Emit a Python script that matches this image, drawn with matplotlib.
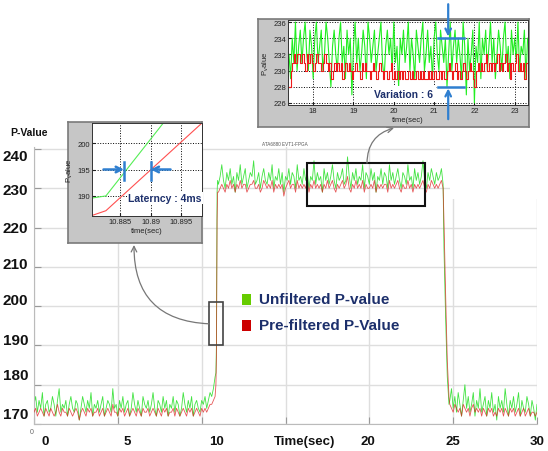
import numpy as np
import matplotlib
matplotlib.use("Agg")
import matplotlib.pyplot as plt
from matplotlib.patches import Rectangle

plt.rcParams["font.family"] = ["Liberation Sans", "DejaVu Sans"]

GREEN_LOW1 = [175,177,173,176,174,178,172,175,176,173,
              174,177,175,172,176,179,173,175,174,176,
              172,175,177,174,173,176,175,171,174,177,
              175,173,176,174,178,172,175,174,176,173,
              175,177,172,174,176,175,173,179,174,175,
              172,176,174,177,173,175,176,172,174,178,
              175,173,176,174,172,177,175,174,176,173,
              175,178,174,172,176,175,173,177,174,176,
              172,175,174,177,173,176,175,172,174,178,
              175,173,176,174,177,172,175,176,174,173,
              176,175,177,174,176,178,177,179,182]
RED_LOW1 = [173,174,172,173,174,173,172,174,173,172,
            174,173,172,173,175,173,172,174,173,173,
            172,174,173,172,173,174,173,171,173,174,
            173,172,174,173,174,172,173,173,174,172,
            173,174,172,173,174,173,172,175,173,173,
            172,174,173,174,172,173,174,172,173,174,
            173,172,174,173,172,174,173,173,174,172,
            173,174,173,172,174,173,172,174,173,174,
            172,173,173,174,172,174,173,172,173,174,
            173,172,174,173,174,172,173,174,173,172,
            174,173,174,173,174,175,175,176,177]

RISE_T = [10.85, 10.88, 10.89, 10.90, 10.92, 10.95]
GREEN_RISE = [183, 190, 201, 216, 229, 232]
RED_RISE = [180, 187, 195, 206, 222, 229]

GREEN_HIGH = [231,233,236,232,230,234,232,235,231,233,
              229,234,232,236,231,233,235,230,232,234,
              233,237,231,232,234,230,233,235,232,231,
              234,232,236,230,233,232,235,231,234,229,
              233,232,235,231,234,233,230,236,232,233,
              231,235,232,234,230,233,232,237,231,234,
              232,233,229,235,232,234,231,233,236,232,
              230,234,232,233,235,231,232,238,233,230,
              234,232,235,231,233,232,236,230,234,233,
              231,235,232,234,229,233,232,235,231,234,
              233,230,236,232,234,231,233,235,232,230,
              234,233,231,236,232,233,230,235,232,234,
              231,233,237,232,230,234,232,235,233,231,
              234,232,233,235,231]
RED_HIGH = [229,230,231,230,229,231,230,232,230,231,
            229,231,230,232,230,231,231,229,230,231,
            231,232,230,230,231,229,230,232,231,230,
            231,230,232,229,231,230,231,230,231,228,
            230,231,232,230,231,231,229,232,230,231,
            230,231,230,232,229,231,230,232,230,231,
            230,231,229,231,230,232,230,231,232,230,
            229,231,230,231,232,230,231,233,230,229,
            231,230,232,230,231,230,232,229,231,230,
            230,231,230,232,229,231,230,231,230,231,
            231,229,232,230,231,230,231,232,230,229,
            231,230,230,232,230,231,229,231,230,231,
            230,231,232,230,229,231,230,232,231,230,
            231,230,231,232,230]

FALL_T = [24.45, 24.55, 24.65, 24.75]
GREEN_FALL = [215, 197, 182, 175]
RED_FALL = [222, 203, 186, 177]

GREEN_LOW2 = [176,179,174,177,173,178,175,172,176,180,
              174,177,173,175,178,172,176,174,179,173,
              175,177,172,176,174,178,173,175,171,177,
              174,176,173,179,175,172,176,174,177,173,
              175,178,172,176,174,173,177,175,172,176,
              174,171,175]
RED_LOW2 = [175,174,173,175,174,173,174,172,175,174,
            173,174,172,174,175,173,174,173,174,172,
            174,173,172,174,173,174,172,173,172,174,
            173,174,172,174,173,172,174,173,174,172,
            173,174,172,173,174,172,173,174,172,173,
            173,172,173]

# ---- latency zoom (piecewise lines) ----
LAT_GREEN_T = [10.8803, 10.8826, 10.8921]
LAT_GREEN_V = [189.6, 190.0, 203.8]
LAT_RED_T = [10.8803, 10.8826, 10.8985]
LAT_RED_V = [186.3, 187.2, 203.8]

# ---- variation zoom, sampled every 0.04 s from 17.4 s ----
VAR_GREEN = [232,229,234,231,236,230,233,235,231,234,
             236,232,230,235,233,229,234,236,231,233,
             235,230,232,236,234,231,228,233,235,232,
             230,234,236,231,233,229,235,232,234,227,
             233,236,231,234,230,232,235,233,229,236,
             234,231,233,235,230,232,234,236,231,229,
             233,235,232,234,230,236,231,233,228,234,
             232,235,231,233,236,230,234,232,229,235,
             233,231,234,236,230,232,235,231,233,229,
             234,236,232,230,235,233,231,234,228,232,
             236,230,233,235,231,234,232,229,236,233,
             227,234,230,232,235,226,233,231,236,229,
             234,232,235,230,233,236,231,234,229,232,
             235,233,230,234,236,231,233,229,235,232,
             234,231,236,230,233,232,235,229,234]
VAR_RED = [228,230,231,232,231,232,232,231,232,231,
           230,232,231,232,231,230,231,232,231,231,
           230,231,232,231,230,231,229,230,231,230,
           231,230,231,229,230,231,230,231,230,229,
           230,231,230,230,229,231,230,231,230,230,
           229,230,231,230,229,230,231,230,229,230,
           230,229,230,231,229,230,229,230,229,230,
           229,230,229,229,230,229,230,229,229,230,
           229,230,229,230,229,229,230,229,230,229,
           230,229,229,230,229,230,229,229,230,231,
           230,229,230,231,229,230,229,230,231,230,
           229,230,231,230,229,228,230,231,230,231,
           230,231,232,230,231,230,231,230,231,232,
           230,231,230,231,232,230,231,229,231,230,
           231,232,230,231,230,231,229,231,230]

Y_LABELS = ["240", "230", "220", "210", "200", "190", "180", "170"]
X_LABELS = ["0", "5", "10", "Time(sec)", "20", "25", "30"]
LEGEND = ["Unfiltered P-value", "Pre-filtered P-Value"]

# assemble the main time axis
t_low1 = np.arange(len(GREEN_LOW1)) * 0.1
t_high = 11.0 + np.arange(len(GREEN_HIGH)) * 0.1
t_low2 = 24.8 + np.arange(len(GREEN_LOW2)) * 0.1
t_main = np.concatenate([t_low1, RISE_T, t_high, FALL_T, t_low2])
g_main = np.concatenate([GREEN_LOW1, GREEN_RISE, GREEN_HIGH, GREEN_FALL, GREEN_LOW2])
r_main = np.concatenate([RED_LOW1, RED_RISE, RED_HIGH, RED_FALL, RED_LOW2])
t_var = 17.4 + np.arange(len(VAR_GREEN)) * 0.04

W, H = 548, 452
fig = plt.figure(figsize=(W / 100, H / 100), dpi=100)
fig.patch.set_facecolor("white")


def fx(px):
    return px / W


def fy(py):
    return 1 - py / H


NAVY = "#1c2f6b"
GREEN = "#2ee02e"
RED = "#dd2020"
BLUE = "#2f7fd0"

# ---- main axes ----
ax = fig.add_axes([fx(34), fy(425), fx(537) - fx(34), fy(148) - fy(425)])
ax.set_xlim(0, 30)
ax.set_ylim(170, 240.5)
ax.set_xticks(np.arange(0, 31, 5))
ax.set_yticks(np.arange(170, 241, 10))
ax.tick_params(labelbottom=False, labelleft=False, direction="in",
               length=5, color="#999999")
ax.grid(color="#dedede", lw=1)
ax.set_axisbelow(True)
for s in ["top", "right"]:
    ax.spines[s].set_visible(False)
for s in ["left", "bottom"]:
    ax.spines[s].set_color("#bbbbbb")
# blank patch in the upper right corner of the original
ax.add_patch(Rectangle((24.82, 227.3), 6, 14, facecolor="white",
                       edgecolor="none", zorder=1))

ax.plot(t_main, g_main, color=GREEN, lw=0.6, alpha=0.9, zorder=2)
ax.plot(t_main, r_main, color=RED, lw=0.6, alpha=0.75, zorder=3)

ax.add_patch(Rectangle((10.44, 190.1), 0.83, 11.0, fill=False,
                       edgecolor="#444444", lw=1.2, zorder=4))
ax.add_patch(Rectangle((16.28, 225.5), 7.02, 10.9, fill=False,
                       edgecolor="#111111", lw=1.5, zorder=4))

# tick labels placed like in the picture
ylab_py = [157, 191, 229, 265, 301, 341, 376, 415]
for lab, py in zip(Y_LABELS, ylab_py):
    fig.text(fx(28), fy(py), lab, ha="right", va="center",
             fontsize=11, fontweight="bold", color="#111111")
xlab_px = [45, 127, 217, 305, 368, 453, 537]
for lab, px in zip(X_LABELS, xlab_px):
    fig.text(fx(px), fy(442), lab, ha="center", va="center",
             fontsize=9.5, fontweight="bold", color="#111111")
fig.text(fx(29.5), fy(133), "P-Value", ha="center", va="center",
         fontsize=7.5, fontweight="bold", color="#111111")
fig.text(fx(32), fy(433), "0", ha="center", va="center", fontsize=5,
         color="#666666")
fig.text(fx(285), fy(144), "ATA6880 EVT1-FPGA", ha="center", va="center",
         fontsize=3.3, color="#555555")

# legend
for i, (lab, col) in enumerate(zip(LEGEND, ["#66cc00", "#cc0000"])):
    cy = [300.5, 326][i]
    fig.patches.append(Rectangle((fx(242), fy(cy + 5.5)), 9 / W, 11 / H,
                                 transform=fig.transFigure,
                                 facecolor=col, edgecolor="none"))
    fig.text(fx(259), fy(cy), lab, ha="left", va="center", fontsize=11,
             fontweight="bold", color=NAVY)

# connector arcs
ax.annotate("", xy=(fx(134), fy(246)), xycoords="figure fraction",
            xytext=(10.44, 195.5), textcoords="data",
            arrowprops=dict(arrowstyle="->", color="#777777", lw=0.9,
                            connectionstyle="arc3,rad=-0.48",
                            shrinkA=0, shrinkB=0), zorder=5)
ax.annotate("", xy=(fx(394), fy(129)), xycoords="figure fraction",
            xytext=(19.86, 236.4), textcoords="data",
            arrowprops=dict(arrowstyle="->", color="#777777", lw=0.9,
                            connectionstyle="arc3,rad=-0.375",
                            shrinkA=0, shrinkB=0), zorder=5)


def gray_frame(x0, y0, x1, y1):
    fr = fig.add_axes([fx(x0), fy(y1), fx(x1) - fx(x0), fy(y0) - fy(y1)])
    fr.set_facecolor("#c6c6c6")
    fr.set_xticks([])
    fr.set_yticks([])
    for s in fr.spines.values():
        s.set_color("#7a7a7a")
        s.set_linewidth(1.2)
    return fr


def style_inset(a):
    a.grid(color="black", ls=":", lw=0.7)
    a.tick_params(labelsize=5.5, direction="in", length=2, pad=1.5,
                  colors="#222222")
    for s in a.spines.values():
        s.set_color("#333333")
        s.set_linewidth(0.7)
    a.set_ylabel(r"P$_\mathregular{v}$alue", fontsize=5.5, labelpad=1.5,
                 color="#222222")
    a.set_xlabel("time(sec)", fontsize=5.5, labelpad=1.5, color="#222222")


# ---- latency inset ----
gray_frame(68, 123, 202, 244)
in1 = fig.add_axes([fx(92), fy(217), fx(202) - fx(92), fy(124) - fy(217)])
in1.set_xlim(10.8803, 10.8985)
in1.set_ylim(186.2, 203.8)
in1.set_xticks([10.885, 10.89, 10.895])
in1.set_xticklabels(["10.885", "10.89", "10.895"])
in1.set_yticks([190, 195, 200])
style_inset(in1)
in1.plot(LAT_GREEN_T, LAT_GREEN_V, color="#55ee55", lw=0.8)
in1.plot(LAT_RED_T, LAT_RED_V, color="#ff5050", lw=0.8)
for x0, x1 in [(10.8822, 10.8856), (10.8933, 10.8900)]:
    in1.annotate("", xy=(x1, 195), xytext=(x0, 195),
                 arrowprops=dict(arrowstyle="->", color=BLUE, lw=1.8,
                                 shrinkA=0, shrinkB=0))
    in1.plot([x1, x1], [193.1, 196.5], color=BLUE, lw=1.8)
in1.text(0.664, 0.194, "Laterncy : 4ms", transform=in1.transAxes,
         ha="center", va="center", fontsize=7.5, fontweight="bold",
         color=NAVY, bbox=dict(facecolor="white", edgecolor="none", pad=0.8))

# ---- variation inset ----
gray_frame(258, 20, 529, 128)
in2 = fig.add_axes([fx(288), fy(106), fx(528) - fx(288), fy(21) - fy(106)])
in2.set_xlim(17.375, 23.33)
in2.set_ylim(225.75, 236.25)
in2.set_xticks(np.arange(18, 24))
in2.set_yticks(np.arange(226, 237, 2))
style_inset(in2)
in2.plot(t_var, VAR_GREEN, color="#22ee22", lw=0.8)
in2.plot(t_var, VAR_RED, color="#ee1a1a", lw=0.8, drawstyle="steps-post")
in2.text(0.483, 0.13, "Variation : 6", transform=in2.transAxes,
         ha="center", va="center", fontsize=7.5, fontweight="bold",
         color=NAVY, bbox=dict(facecolor="white", edgecolor="none", pad=2))
in2.annotate("", xy=(21.35, 234.2), xytext=(21.35, 238.2),
             arrowprops=dict(arrowstyle="->", color=BLUE, lw=1.6,
                             shrinkA=0, shrinkB=0), annotation_clip=False)
in2.annotate("", xy=(21.35, 227.8), xytext=(21.35, 224.0),
             arrowprops=dict(arrowstyle="->", color=BLUE, lw=1.6,
                             shrinkA=0, shrinkB=0), annotation_clip=False)
for yb in [234, 228]:
    in2.plot([21.1, 21.73], [yb, yb], color=BLUE, lw=1.8, clip_on=False)

fig.savefig("out.png", dpi=100)
